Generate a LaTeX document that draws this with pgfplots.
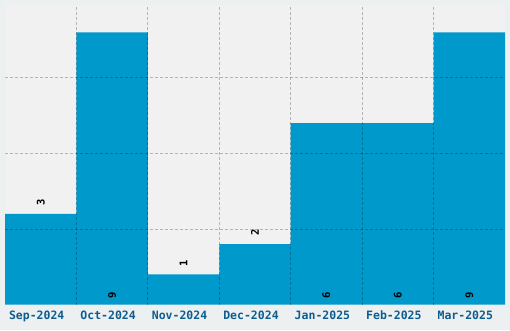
\documentclass[border=0pt]{standalone}
\usepackage{pgfplots}
\pgfplotsset{compat=1.18}
\usepackage{fontspec}
\newfontfamily\monob{DejaVu Sans Mono}
\definecolor{outerbg}{HTML}{EDF0F1}
\definecolor{plotbg}{HTML}{F1F1F1}
\definecolor{barc}{HTML}{0099CC}
\definecolor{tickc}{HTML}{0E5D91}
\begin{document}
\begin{tikzpicture}[x=1bp,y=1bp]
\fill[outerbg] (0,0) rectangle (510,330);
\useasboundingbox (0,0) rectangle (510,330);
\begin{axis}[
  at={(5bp,25.3bp)}, anchor=south west,
  scale only axis, width=500bp, height=299.7bp,
  xmin=-0.5, xmax=6.5, ymin=0, ymax=9.9,
  /pgf/number format/assume math mode=true,
  axis background/.style={fill=plotbg},
  axis line style={draw=none},
  major tick length=0, minor tick length=0,
  xtick={0,1,2,3,4,5,6},
  xticklabels={Sep-2024,Oct-2024,Nov-2024,Dec-2024,Jan-2025,Feb-2025,Mar-2025},
  xticklabel style={font=\monob\bfseries\fontsize{11.5bp}{12bp}\selectfont, text=tickc, yshift=-2.5bp, xshift=-4bp},
  minor xtick={0.5,1.5,2.5,3.5,4.5,5.5},
  ytick={2.5,5,7.5}, yticklabels={},
  xmajorgrids=false, xminorgrids=true, ymajorgrids=true,
  grid style={black, opacity=0.25, line width=1bp, dash pattern=on 3bp off 2bp},
  minor grid style={black, opacity=0.25, line width=1bp, dash pattern=on 3bp off 2bp},
  axis on top,
]
\addplot[ybar, bar width=1, fill=barc, draw=none] coordinates {
  (0,3) (1,9) (2,1) (3,2) (4,6) (5,6) (6,9)
};
% labels above short bars
\addplot[draw=none, mark=none, point meta=explicit, nodes near coords,
  nodes near coords style={rotate=90, anchor=west, inner sep=0pt, xshift=8bp,
    font=\monob\bfseries\fontsize{10.5bp}{11bp}\selectfont, text=black}]
  coordinates {(0,3)[3] (2,1)[1] (3,2)[2]};
% labels inside tall bars
\addplot[draw=none, mark=none, point meta=explicit, nodes near coords,
  nodes near coords style={rotate=90, anchor=west, inner sep=0pt, xshift=6bp,
    font=\monob\bfseries\fontsize{10.5bp}{11bp}\selectfont, text=black}]
  coordinates {(1,0)[9] (4,0)[6] (5,0)[6] (6,0)[9]};
\end{axis}
\end{tikzpicture}
\end{document}
